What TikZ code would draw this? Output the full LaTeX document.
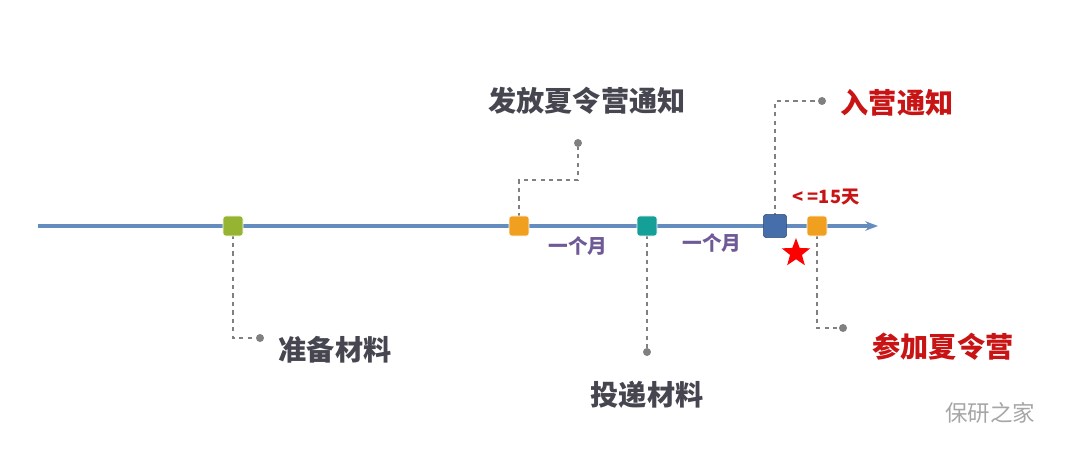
\documentclass[tikz,border=0pt]{standalone}
\usepackage{fontspec}
\setmainfont{Noto Sans CJK SC}
\newfontfamily\cjk{Noto Sans CJK SC}
\usetikzlibrary{shapes.geometric,arrows.meta,positioning}
\definecolor{axisblue}{RGB}{100,140,190}
\definecolor{labgray}{RGB}{70,70,80}
\definecolor{labred}{RGB}{200,20,20}
\definecolor{monthpurple}{RGB}{110,90,150}
\definecolor{mkgreen}{RGB}{150,180,50}
\definecolor{mkorange}{RGB}{240,160,30}
\definecolor{mkteal}{RGB}{20,160,150}
\definecolor{mkblue}{RGB}{70,110,170}
\tikzset{
  stage/.style={rectangle,rounded corners=2pt,minimum size=0.5cm,inner sep=0pt,draw=white,thin},
  leader/.style={dashed,draw=gray,thick},
  tip/.style={circle,fill=gray,inner sep=0pt,minimum size=0.2cm},
  phase/.style={font=\cjk\bfseries\fontsize{20}{22}\selectfont,text=labgray},
  redphase/.style={phase,text=labred},
  month/.style={font=\cjk\bfseries\fontsize{14}{16}\selectfont,text=monthpurple}
}
\begin{document}
\begin{tikzpicture}[x=0.025cm,y=-0.025cm]
\useasboundingbox (0,0) rectangle (1080,466);

% axis
\coordinate (s0) at (38,226);
\coordinate (e0) at (878,226);
\draw[axisblue,line width=2.6pt,-{Stealth[length=9pt]}] (s0)--(e0);

% leaders
\coordinate (c1) at (578,180);
\coordinate (c2) at (775,101);
\coordinate (c3) at (817,328);
\coordinate (c4) at (233,338);
\node (d1) [tip] at (260,338) {};
\node (d2) [tip] at (578,143) {};
\node (d3) [tip] at (647,352) {};
\node (d4) [tip] at (822,101) {};
\node (d5) [tip] at (843,328) {};
\draw[leader] (233,226)--(c4)--(d1);
\draw[leader] (519,226)|-(c1)--(d2);
\draw[leader] (647,226)--(d3);
\draw[leader] (775,226)--(c2)--(d4);
\draw[leader] (817,226)--(c3)--(d5);

% markers
\node (m1) [stage,fill=mkgreen] at (233,226) {};
\node (m2) [stage,fill=mkorange] at (519,226) {};
\node (m3) [stage,fill=mkteal] at (647,226) {};
\node (m4) [stage,fill=mkblue,draw=mkblue!70!black,minimum size=0.58cm] at (775,226) {};
\node (m5) [stage,fill=mkorange] at (817,226) {};

% labels
\node (t1) [phase] at (335,350) {准备材料};
\node (t2) [phase] at (587,101) {发放夏令营通知};
\node (t3) [phase] at (647,395) {投递材料};
\node (t4) [redphase] at (897,103) {入营通知};
\node (t5) [redphase] at (943,347) {参加夏令营};
\node (n1) [month] at (578,246) {一个月};
\node (n2) [month] at (712,243) {一个月};
\node (n3) [font=\cjk\bfseries\fontsize{13}{15}\selectfont,text=labred] at (826,197) {< =15天};
\node (st) [star,star points=5,star point ratio=2.4,fill=red,inner sep=0pt,minimum size=0.75cm] at (796,253) {};
\node (wm) [font=\cjk\fontsize{16}{18}\selectfont,text=gray!70] at (990,413) {保研之家};
\end{tikzpicture}
\end{document}
